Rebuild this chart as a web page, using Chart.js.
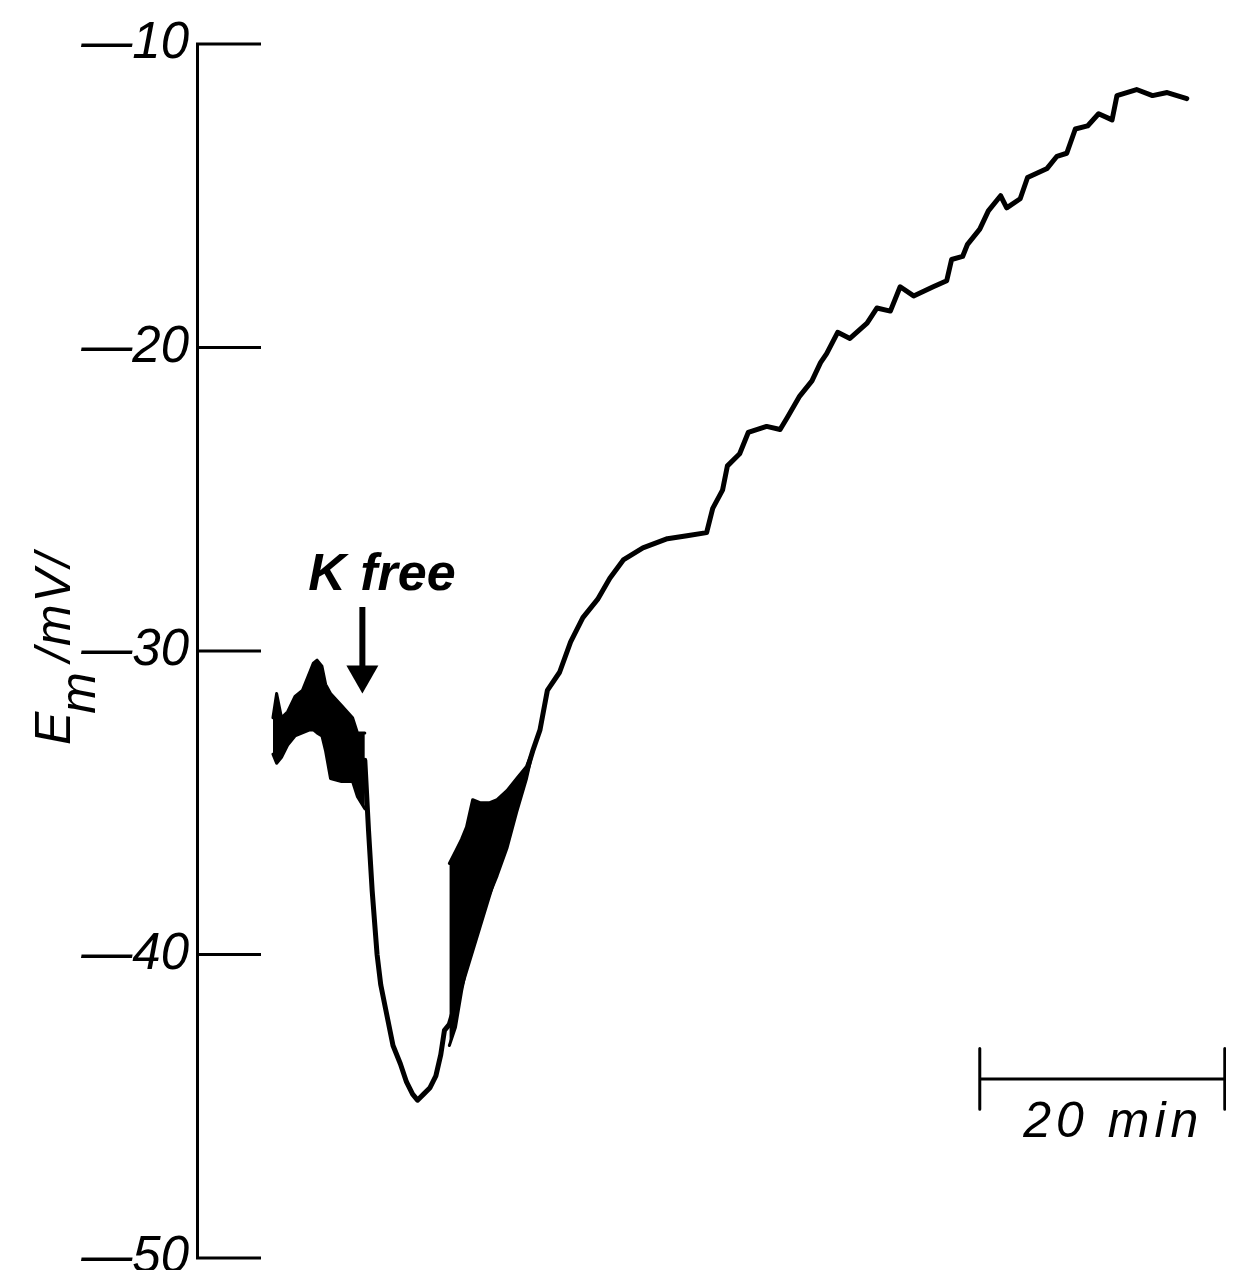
<!DOCTYPE html>
<html>
<head>
<meta charset="utf-8">
<script src="https://cdn.jsdelivr.net/npm/chart.js@4.4.0/dist/chart.umd.min.js"></script>
<style>
html, body { margin: 0; padding: 0; background: #fff; }
#wrap { width: 1248px; height: 1270px; }
</style>
</head>
<body>
<div id="wrap"><canvas id="chart_em" width="1248" height="1270"></canvas></div>
<script>
// y axis ticks, mV
const y_ticks = [-10, -20, -30, -40, -50];

// noisy band before K free (time in min, Em in mV)
const band1_t = [6.2, 6.5, 6.9, 7.4, 8.0, 8.6, 9.2, 9.5, 9.8, 10.2, 10.5, 10.9, 11.8, 12.7, 13.1, 13.7];
const band1_hi = [-32.2, -31.4, -32.2, -32.0, -31.5, -31.3, -30.7, -30.4, -30.3, -30.5, -31.1, -31.4, -31.8, -32.2, -32.7, -32.7];
const band1_lo = [-33.4, -33.7, -33.5, -33.1, -32.8, -32.7, -32.6, -32.6, -32.7, -32.8, -33.3, -34.2, -34.3, -34.3, -34.8, -35.2];

// oscillating band on the way back up
const band2_t = [20.6, 21.1, 21.6, 22.0, 22.5, 23.1, 23.9, 24.5, 25.3, 26.1, 26.9, 27.4];
const band2_hi = [-37.0, -36.6, -36.2, -35.8, -34.9, -35.0, -35.0, -34.9, -34.6, -34.2, -33.8, -33.3];
const band2_lo = [-43.0, -42.4, -41.2, -40.4, -39.7, -38.6, -38.0, -37.4, -36.5, -35.3, -34.2, -33.3];

// single trace
const trace_t = [
    13.7, 14.0, 14.3, 14.7, 15.0, 15.4, 16.0, 16.6, 17.1, 17.6, 18.0, 18.5, 19.0, 19.5, 19.9, 20.2, 20.6,
    27.4, 28.0, 28.6, 29.6, 30.5, 31.5, 32.7, 33.7, 34.8, 36.4, 38.4, 40.0, 41.6, 42.1, 42.9, 43.3, 44.3, 45.0,
    46.5, 47.6, 48.2, 49.2, 50.2, 50.9, 51.4, 52.3, 53.3, 54.7, 55.5, 56.6, 57.4, 58.5, 60.1, 61.2, 61.6, 62.5, 62.9,
    63.9, 64.6, 65.6, 66.1, 67.2, 67.8, 69.4, 70.2, 71.0, 71.7, 72.7, 73.6, 74.7, 75.1, 76.7, 78.0, 79.2, 80.8
];
const trace_mv = [
    -33.6, -35.9, -37.9, -40.0, -41.0, -41.8, -43.0, -43.6, -44.2, -44.6, -44.8, -44.6, -44.4, -44.0, -43.3, -42.5, -42.3,
    -33.3, -32.6, -31.3, -30.7, -29.7, -28.9, -28.3, -27.6, -27.0, -26.6, -26.3, -26.2, -26.1, -25.3, -24.7, -23.9, -23.5, -22.8,
    -22.6, -22.7, -22.3, -21.6, -21.1, -20.5, -20.2, -19.5, -19.7, -19.2, -18.7, -18.8, -18.0, -18.3, -18.0, -17.8, -17.1, -17.0, -16.6,
    -16.1, -15.5, -15.0, -15.4, -15.1, -14.4, -14.1, -13.7, -13.6, -12.8, -12.7, -12.3, -12.5, -11.7, -11.5, -11.7, -11.6, -11.8
];

// 20 min scale bar
const bar_t = [63.9, 63.9, 63.9, 63.9, 83.9, 83.9, 83.9, 83.9];
const bar_mv = [-43.1, -45.1, null, -44.1, -44.1, null, -43.1, -45.1];

// K free marker
const arrow_t = 13.5;
const arrow_from = -28.55;
const arrow_to = -31.4;
const k_label = 'K free';
const k_label_t = 15.1;
const k_label_mv = -28.0;

const bar_label = '20 min';
const bar_label_t = 74.8;
const bar_label_mv = -46.0;

function pair(xs, ys) {
    return xs.map((x, i) => ({ x: x, y: ys[i] }));
}

const line_style = {
    borderColor: '#000',
    backgroundColor: '#000',
    borderWidth: 5,
    pointRadius: 0,
    tension: 0,
    borderJoinStyle: 'round',
    borderCapStyle: 'round',
};

const extras_plugin = {
    id: 'extras',
    afterDraw(chart) {
        const ctx = chart.ctx;
        const xs = chart.scales.x;
        const ys = chart.scales.y;
        const left = chart.chartArea.left;

        ctx.save();
        ctx.strokeStyle = '#000';
        ctx.fillStyle = '#000';

        // tick marks go to the right of the axis
        ctx.lineWidth = 3;
        y_ticks.forEach((v) => {
            const yp = ys.getPixelForValue(v);
            ctx.beginPath();
            ctx.moveTo(left - 1, yp);
            ctx.lineTo(left + 64, yp);
            ctx.stroke();
        });

        // arrow
        const ax = xs.getPixelForValue(arrow_t);
        const ay0 = ys.getPixelForValue(arrow_from);
        const ay1 = ys.getPixelForValue(arrow_to);
        ctx.lineWidth = 6;
        ctx.beginPath();
        ctx.moveTo(ax, ay0);
        ctx.lineTo(ax, ay1 - 20);
        ctx.stroke();
        ctx.beginPath();
        ctx.moveTo(ax - 16, ay1 - 28);
        ctx.lineTo(ax + 16, ay1 - 28);
        ctx.lineTo(ax, ay1);
        ctx.closePath();
        ctx.fill();

        // K free
        ctx.font = 'italic bold 52px "Liberation Sans"';
        ctx.textAlign = 'center';
        ctx.textBaseline = 'alphabetic';
        ctx.fillText(k_label, xs.getPixelForValue(k_label_t), ys.getPixelForValue(k_label_mv));

        // scale bar text
        ctx.font = 'italic 50px "Liberation Sans"';
        ctx.letterSpacing = '5px';
        ctx.fillText(bar_label, xs.getPixelForValue(bar_label_t), ys.getPixelForValue(bar_label_mv));

        // y title: E_m /mV/
        ctx.translate(70, 745);
        ctx.rotate(-Math.PI / 2);
        ctx.textAlign = 'left';
        ctx.letterSpacing = '2px';
        ctx.font = 'italic 50px "Liberation Sans"';
        ctx.fillText('E', 0, 0);
        let w = ctx.measureText('E').width - 4;
        ctx.fillText('m', w, 25);
        w += ctx.measureText('m').width + 8;
        ctx.fillText('/mV/', w, 0);
        ctx.letterSpacing = '0px';
        ctx.restore();
    },
};

new Chart(document.getElementById('chart_em'), {
    type: 'line',
    data: {
        datasets: [
            Object.assign({}, line_style, { data: pair(band1_t, band1_hi), fill: '+1', borderWidth: 3 }),
            Object.assign({}, line_style, { data: pair(band1_t, band1_lo), fill: false, borderWidth: 3 }),
            Object.assign({}, line_style, { data: pair(band2_t, band2_hi), fill: '+1', borderWidth: 3 }),
            Object.assign({}, line_style, { data: pair(band2_t, band2_lo), fill: false, borderWidth: 3 }),
            Object.assign({}, line_style, { data: pair(trace_t, trace_mv), fill: false }),
            Object.assign({}, line_style, { data: pair(bar_t, bar_mv), fill: false, borderWidth: 3, spanGaps: false, borderCapStyle: 'butt' }),
        ],
    },
    options: {
        responsive: false,
        animation: false,
        events: [],
        layout: {
            padding: { left: 0, top: 44, right: 22, bottom: 12 },
        },
        plugins: {
            legend: { display: false },
            tooltip: { enabled: false },
        },
        scales: {
            x: {
                type: 'linear',
                display: false,
                min: 0,
                max: 84,
            },
            y: {
                min: -50,
                max: -10,
                afterFit(scale) {
                    scale.width = 197;
                    scale.paddingTop = 0;
                    scale.paddingBottom = 0;
                },
                border: { display: true, color: '#000', width: 3 },
                grid: { display: true, drawOnChartArea: false, drawTicks: false, color: 'rgba(0,0,0,0)' },
                ticks: {
                    stepSize: 10,
                    padding: 8,
                    color: '#000',
                    font: { family: 'Liberation Sans', size: 51, style: 'italic' },
                    callback: (v) => '\u2014' + Math.abs(v),
                },
            },
        },
    },
    plugins: [extras_plugin],
});
</script>
</body>
</html>
